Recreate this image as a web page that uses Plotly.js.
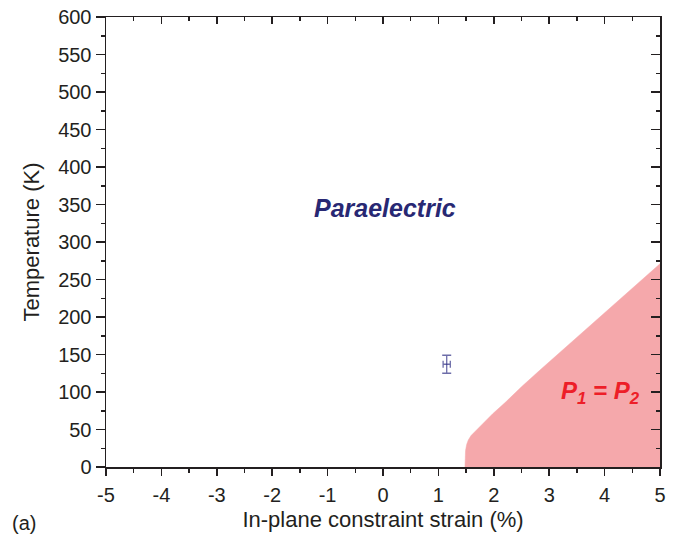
<!DOCTYPE html>
<html>
<head>
<meta charset="utf-8">
<script src="https://cdn.plot.ly/plotly-3.0.1.min.js"></script>
<style>
  html, body { margin: 0; padding: 0; background: #fff; }
  #chart { width: 697px; height: 547px; }
</style>
</head>
<body>
<div id="chart"></div>
<script>
// Phase boundary of the P1 = P2 region (strain in %, temperature in K)
const boundaryStrain = [1.48, 1.48, 1.49, 1.51, 1.54, 1.59, 1.68, 1.77, 1.86, 1.98, 2.22, 2.50, 2.83, 3.92, 5.00];
const boundaryTemp   = [0,    14,   22,   30,   36,   42,   49,   56,   62,   71,   87,   107,  129,  200,  271];

// Closing corner of the region on the bottom-right
const cornerStrain = [5.00];
const cornerTemp   = [0];

// Measured point with error bars
const pointStrain = [1.15];
const pointTemp   = [137];
const pointErrT   = [12];
const pointErrS   = [0.065];

// Tick labels
const strainTicks = [-5, -4, -3, -2, -1, 0, 1, 2, 3, 4, 5];
const tempTicks   = [0, 50, 100, 150, 200, 250, 300, 350, 400, 450, 500, 550, 600];

const axisColor = '#231f20';
const font = 'Liberation Sans, Arial, sans-serif';

const regionTrace = {
  type: 'scatter',
  mode: 'lines',
  x: boundaryStrain.concat(cornerStrain),
  y: boundaryTemp.concat(cornerTemp),
  fill: 'toself',
  fillcolor: 'rgb(245,168,171)',
  line: { width: 0.5, color: 'rgb(245,168,171)' },
  hoverinfo: 'skip',
  showlegend: false
};

const pointTrace = {
  type: 'scatter',
  mode: 'markers',
  x: pointStrain,
  y: pointTemp,
  marker: { size: 1, color: 'rgba(60,60,140,0.8)' },
  error_y: { type: 'data', array: pointErrT, visible: true, color: 'rgba(60,60,140,0.75)', thickness: 1.3, width: 4.5 },
  error_x: { type: 'data', array: pointErrS, visible: true, color: 'rgba(60,60,140,0.75)', thickness: 1.3, width: 3.5 },
  hoverinfo: 'skip',
  showlegend: false
};

// Carrier for the mirrored top / right axes
const mirrorTrace = {
  type: 'scatter',
  mode: 'markers',
  x: [strainTicks[0]],
  y: [tempTicks[0]],
  xaxis: 'x2',
  yaxis: 'y2',
  marker: { opacity: 0 },
  hoverinfo: 'skip',
  showlegend: false
};

const baseAxis = {
  showgrid: false,
  zeroline: false,
  showline: true,
  linecolor: axisColor,
  linewidth: 1.5,
  tickcolor: axisColor,
  tickwidth: 1.5,
  fixedrange: true
};

const layout = {
  width: 697,
  height: 547,
  margin: { l: 106, r: 37, t: 17, b: 80 },
  paper_bgcolor: '#ffffff',
  plot_bgcolor: '#ffffff',
  showlegend: false,
  font: { family: font, color: axisColor, size: 20 },
  xaxis: Object.assign({}, baseAxis, {
    range: [strainTicks[0], strainTicks[strainTicks.length - 1]],
    tickmode: 'array',
    tickvals: strainTicks,
    ticktext: strainTicks.map(String),
    ticks: 'outside',
    ticklen: 7,
    ticklabelstandoff: 2,
    minor: { dtick: 0.5, ticks: 'outside', ticklen: 4, tickcolor: axisColor, tickwidth: 1.5, showgrid: false },
    tickfont: { family: font, size: 20, color: axisColor },
    title: { text: 'In-plane constraint strain (%)', font: { family: font, size: 22, color: axisColor }, standoff: 7 }
  }),
  yaxis: Object.assign({}, baseAxis, {
    range: [tempTicks[0], tempTicks[tempTicks.length - 1]],
    tickmode: 'array',
    tickvals: tempTicks,
    ticktext: tempTicks.map(String),
    ticks: 'outside',
    ticklen: 9,
    minor: { dtick: 25, ticks: 'outside', ticklen: 4, tickcolor: axisColor, tickwidth: 1.5, showgrid: false },
    tickfont: { family: font, size: 20, color: axisColor },
    title: { text: 'Temperature (K)', font: { family: font, size: 22, color: axisColor }, standoff: 12 }
  }),
  xaxis2: Object.assign({}, baseAxis, {
    overlaying: 'x',
    side: 'top',
    range: [strainTicks[0], strainTicks[strainTicks.length - 1]],
    tickmode: 'array',
    tickvals: strainTicks,
    showticklabels: false,
    ticks: 'inside',
    ticklen: 7,
    minor: { dtick: 0.5, ticks: 'inside', ticklen: 4, tickcolor: axisColor, tickwidth: 1.5, showgrid: false }
  }),
  yaxis2: Object.assign({}, baseAxis, {
    overlaying: 'y',
    side: 'right',
    range: [tempTicks[0], tempTicks[tempTicks.length - 1]],
    tickmode: 'array',
    tickvals: tempTicks,
    showticklabels: false,
    ticks: 'inside',
    ticklen: 9,
    minor: { dtick: 25, ticks: 'inside', ticklen: 4, tickcolor: axisColor, tickwidth: 1.5, showgrid: false }
  }),
  annotations: [
    {
      x: 0.04, y: 346, xref: 'x', yref: 'y',
      text: '<b><i>Paraelectric</i></b>',
      showarrow: false,
      font: { family: font, size: 25, color: 'rgb(40,40,115)' }
    },
    {
      x: 3.93, y: 100, xref: 'x', yref: 'y',
      text: '<b><i>P<sub>1</sub> = P<sub>2</sub></i></b>',
      showarrow: false,
      font: { family: font, size: 24, color: 'rgb(237,30,40)' }
    },
    {
      x: 0.014, y: 0.044, xref: 'paper', yref: 'paper',
      xanchor: 'left', yanchor: 'middle',
      text: '(a)',
      showarrow: false,
      font: { family: font, size: 20, color: axisColor }
    }
  ]
};

// Panel label sits in the lower-left corner of the page
(function placePanelLabel() {
  const a = layout.annotations[2];
  const plotW = layout.width - layout.margin.l - layout.margin.r;
  const plotH = layout.height - layout.margin.t - layout.margin.b;
  const px = 10, py = 523;
  a.x = (px - layout.margin.l) / plotW;
  a.y = (layout.height - layout.margin.b - py) / plotH;
})();

Plotly.newPlot('chart', [regionTrace, pointTrace, mirrorTrace], layout, { staticPlot: true, displayModeBar: false });
</script>
</body>
</html>
